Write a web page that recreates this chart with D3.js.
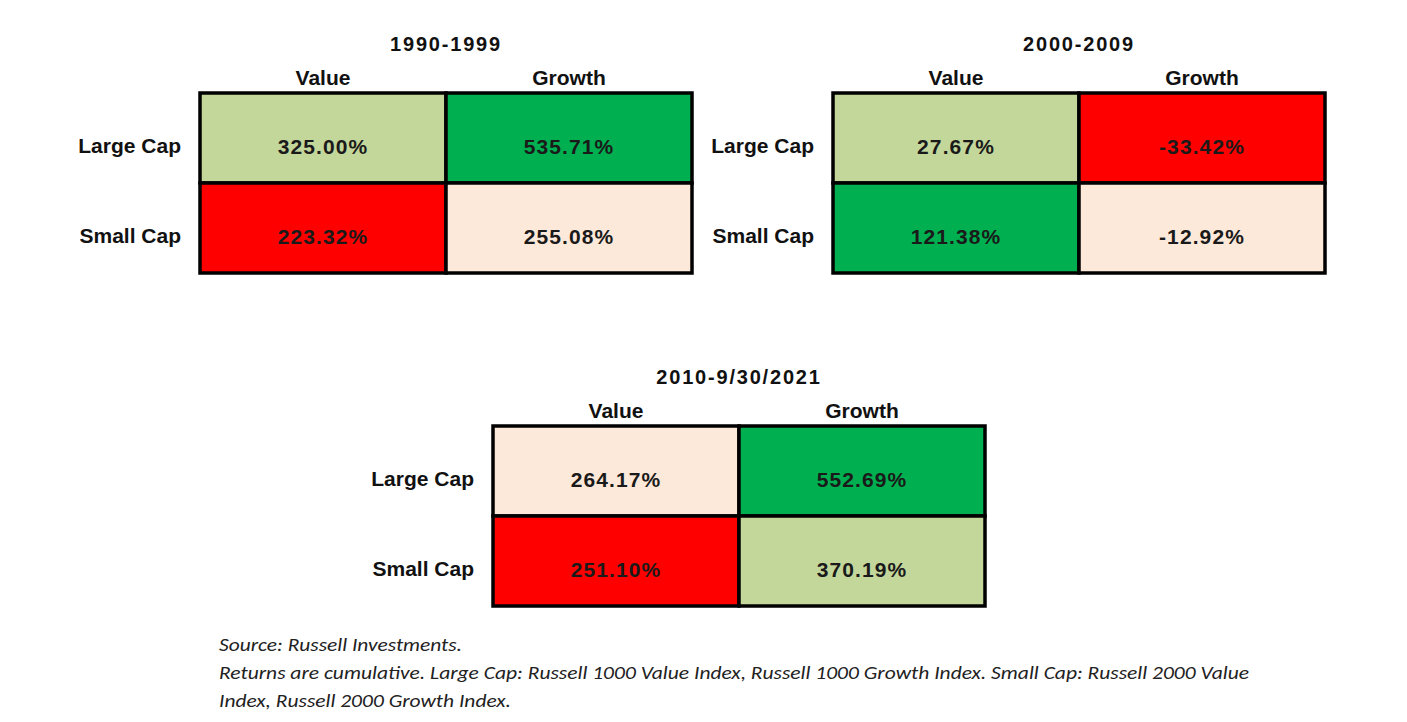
<!DOCTYPE html>
<html><head><meta charset="utf-8">
<script src="https://cdn.jsdelivr.net/npm/d3@7"></script>
<style>html,body{margin:0;padding:0;background:#fff;}</style>
</head><body>
<script>
const periods = ["1990-1999", "2000-2009", "2010-9/30/2021"];
const styles = ["Value", "Growth"];
const sizes = ["Large Cap", "Small Cap"];
const returns1990 = [[325.00, 535.71], [223.32, 255.08]];
const returns2000 = [[27.67, -33.42], [121.38, -12.92]];
const returns2010 = [[264.17, 552.69], [251.10, 370.19]];
const rankColors = ["#00B050", "#C4D79B", "#FDE9D9", "#FF0000"];
const footnotes = [
  "Source: Russell Investments.",
  "Returns are cumulative.  Large Cap: Russell 1000 Value Index, Russell 1000 Growth Index. Small Cap: Russell 2000 Value",
  "Index, Russell 2000 Growth Index."
];
const footWidths = [243, 1030, 292];

const W = 1407, H = 722;
const svg = d3.select("body").append("svg").attr("width", W).attr("height", H)
  .style("font-family", "'Liberation Sans', Arial, sans-serif");

const panels = [
  {title: periods[0], data: returns1990, x: 200, y: 93},
  {title: periods[1], data: returns2000, x: 833, y: 93},
  {title: periods[2], data: returns2010, x: 493, y: 426}
];
const gw = 492, gh = 180;

panels.forEach(p => {
  const g = svg.append("g").attr("transform", `translate(${p.x},${p.y})`);
  const xs = d3.scaleBand().domain(styles).range([0, gw]);
  const ys = d3.scaleBand().domain(sizes).range([0, gh]);
  const cells = [];
  sizes.forEach((s, i) => styles.forEach((st, j) => cells.push({size: s, style: st, v: p.data[i][j]})));
  const sorted = cells.map(c => c.v).sort((a, b) => b - a);
  const color = d3.scaleOrdinal().domain(sorted).range(rankColors);

  g.append("text").attr("x", gw / 2).attr("y", -42)
    .attr("text-anchor", "middle").attr("font-size", 20).attr("font-weight", "bold")
    .attr("letter-spacing", 1.8).attr("fill", "#111").text(p.title);

  g.selectAll(".col").data(styles).enter().append("text")
    .attr("x", d => xs(d) + xs.bandwidth() / 2).attr("y", -8)
    .attr("text-anchor", "middle").attr("font-size", 21).attr("font-weight", "bold")
    .attr("fill", "#111").text(d => d);

  g.selectAll(".row").data(sizes).enter().append("text")
    .attr("x", -19).attr("y", d => ys(d) + ys.bandwidth() / 2 + 15)
    .attr("text-anchor", "end").attr("font-size", 21).attr("font-weight", "bold")
    .attr("fill", "#111").text(d => d);

  g.selectAll(".cell").data(cells).enter().append("rect")
    .attr("x", d => xs(d.style)).attr("y", d => ys(d.size))
    .attr("width", xs.bandwidth()).attr("height", ys.bandwidth())
    .attr("fill", d => color(d.v)).attr("stroke", "#000").attr("stroke-width", 3.5);

  g.selectAll(".val").data(cells).enter().append("text")
    .attr("x", d => xs(d.style) + xs.bandwidth() / 2)
    .attr("y", d => ys(d.size) + ys.bandwidth() / 2 + 16)
    .attr("text-anchor", "middle").attr("font-size", 21).attr("font-weight", "bold")
    .attr("letter-spacing", 1.1).attr("fill", "#1a1a1a")
    .text(d => d.v.toFixed(2) + "%");
});

svg.selectAll(".foot").data(footnotes).enter().append("text")
  .attr("x", 219).attr("y", (d, i) => 651 + i * 28)
  .attr("font-family", "Carlito, Lato, 'Open Sans', sans-serif")
  .attr("font-style", "italic").attr("font-size", 19).attr("fill", "#222")
  .attr("textLength", (d, i) => footWidths[i]).attr("lengthAdjust", "spacingAndGlyphs")
  .text(d => d);
</script>
</body></html>
